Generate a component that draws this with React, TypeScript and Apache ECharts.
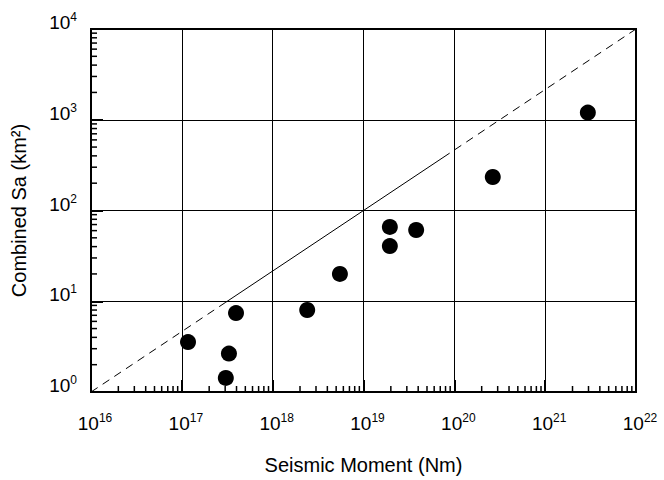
import React, { useEffect, useRef } from "react";
import * as echarts from "echarts";

// Data
const momentNm: number[] = [1.17e17, 3.3e17, 3.05e17, 3.95e17, 2.4e18, 5.5e18, 1.95e19, 1.95e19, 3.8e19, 2.65e20, 2.95e21];
const combinedSa: number[] = [3.55, 2.65, 1.43, 7.4, 8.0, 20, 66, 40.5, 61, 234, 1200];

// Reference line (Sa ∝ M^(2/3)): dashed, solid, dashed pieces
const lineDashLow: [number, number][] = [[1e16, 1], [3e17, 9.65]];
const lineSolid: [number, number][] = [[3e17, 9.65], [7.5e19, 383]];
const lineDashHigh: [number, number][] = [[7.5e19, 383], [1e22, 1e4]];

const xDecades: number[] = [16, 17, 18, 19, 20, 21];
const yDecades: number[] = [0, 1, 2, 3];
const minorMultipliers: number[] = [2, 3, 4, 5, 6, 7, 8, 9];

const X_MIN = 1e16, X_MAX = 1e22, Y_MIN = 1, Y_MAX = 1e4;
const FONT = "'Liberation Sans', Arial, Helvetica, sans-serif";

export default function App() {
  const ref = useRef<HTMLDivElement>(null);
  useEffect(() => {
    if (!ref.current) return;
    const chart = echarts.init(ref.current, undefined, { renderer: "svg" });

    const minorData: number[][] = [];
    xDecades.forEach((d) => minorMultipliers.forEach((m) => minorData.push([m * Math.pow(10, d), Y_MIN, 0])));
    yDecades.forEach((d) => minorMultipliers.forEach((m) => minorData.push([X_MIN, m * Math.pow(10, d), 1])));

    const labelFmt = (v: number) => {
      const e = Math.round(Math.log10(v));
      return "{b|10}{s|" + e + "}";
    };
    const rich = {
      b: { fontSize: 19, lineHeight: 19, fontFamily: FONT, color: "#000", verticalAlign: "bottom" },
      s: { fontSize: 12, lineHeight: 12, fontFamily: FONT, color: "#000", verticalAlign: "bottom", padding: [0, 0, 9, 0] },
    };

    const option: any = {
      animation: false,
      backgroundColor: "#fff",
      grid: { left: 91, right: 28, top: 29, bottom: 88, show: true, borderColor: "#000", borderWidth: 2, containLabel: false },
      xAxis: {
        type: "log",
        logBase: 10,
        min: X_MIN,
        max: X_MAX,
        splitNumber: 6,
        name: "Seismic Moment (Nm)",
        nameLocation: "middle",
        nameGap: 63,
        nameTextStyle: { fontSize: 20, fontFamily: FONT, color: "#000" },
        axisLine: { show: true, lineStyle: { color: "#000", width: 2 } },
        axisTick: { show: true, inside: true, length: 12, lineStyle: { color: "#000", width: 2 } },
        axisLabel: { formatter: labelFmt, rich, margin: 22, padding: [0, 0, 0, 8] },
        splitLine: { show: true, lineStyle: { color: "#000", width: 1 } },
      },
      yAxis: {
        type: "log",
        logBase: 10,
        min: Y_MIN,
        max: Y_MAX,
        splitNumber: 4,
        name: "Combined Sa (km²)",
        nameLocation: "middle",
        nameGap: 62,
        nameTextStyle: { fontSize: 20, fontFamily: FONT, color: "#000" },
        axisLine: { show: true, lineStyle: { color: "#000", width: 2 } },
        axisTick: { show: true, inside: true, length: 12, lineStyle: { color: "#000", width: 2 } },
        axisLabel: { formatter: labelFmt, rich, margin: 14, padding: [0, 0, 13, 0] },
        splitLine: { show: true, lineStyle: { color: "#000", width: 1 } },
      },
      series: [
        {
          type: "custom",
          silent: true,
          data: minorData,
          clip: false,
          renderItem: (params: any, api: any) => {
            const p = api.coord([api.value(0), api.value(1)]);
            const isY = api.value(2) === 1;
            return {
              type: "line",
              shape: isY
                ? { x1: p[0], y1: p[1], x2: p[0] + 6, y2: p[1] }
                : { x1: p[0], y1: p[1], x2: p[0], y2: p[1] - 6 },
              style: { stroke: "#000", lineWidth: 1.5 },
            };
          },
          z: 3,
        },
        {
          type: "line",
          data: lineDashLow,
          showSymbol: false,
          lineStyle: { color: "#000", width: 1, type: [8, 6] },
          z: 4,
        },
        {
          type: "line",
          data: lineSolid,
          showSymbol: false,
          lineStyle: { color: "#000", width: 1, type: "solid" },
          z: 4,
        },
        {
          type: "line",
          data: lineDashHigh,
          showSymbol: false,
          lineStyle: { color: "#000", width: 1, type: [8, 6] },
          z: 4,
        },
        {
          type: "scatter",
          data: momentNm.map((m, i) => [m, combinedSa[i]]),
          symbol: "circle",
          symbolSize: 16,
          itemStyle: { color: "#000", opacity: 1 },
          z: 5,
        },
      ],
    };
    chart.setOption(option);
    return () => chart.dispose();
  }, []);
  return <div ref={ref} style={{ position: "absolute", left: 0, top: 0, width: 664, height: 480 }} />;
}
